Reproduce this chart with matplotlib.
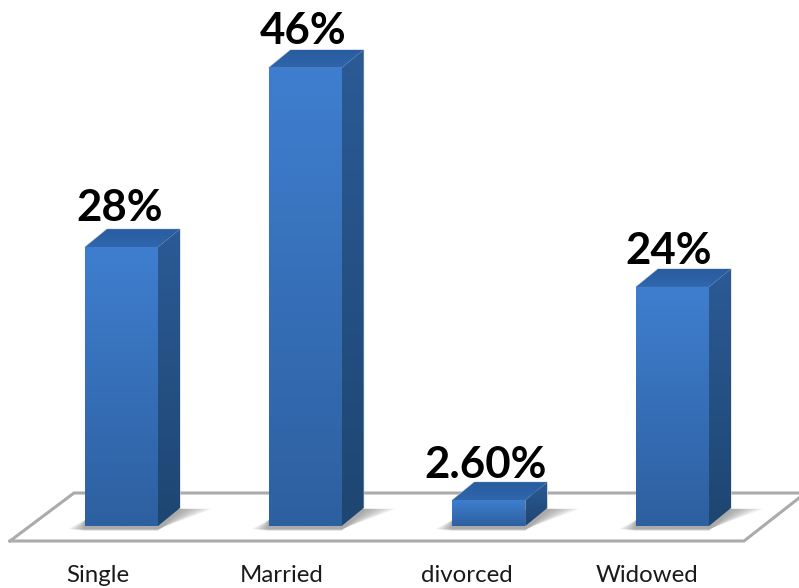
import numpy as np
import matplotlib
matplotlib.use('Agg')
import matplotlib.pyplot as plt
from matplotlib.patches import Polygon

categories = ['Single', 'Married', 'divorced', 'Widowed']
values = [28, 46, 2.6, 24]
labels = ['28%', '46%', '2.60%', '24%']

W, H = 799, 588
# one category step and one percent, in pixels of the picture
STEP = 183.67
PER = 9.96
X0 = 121.5
Y0 = 526

BAR_W = 73 / STEP
DX = 22 / STEP
DY = 18 / PER
GREY = '#ababab'


def px(x, y):
    # picture pixel -> data coords, only for the floor and the text
    return (x - X0) / STEP, (Y0 - y) / PER


def gradient(ax, poly, top, bottom, zorder):
    c1 = np.array(matplotlib.colors.to_rgb(top))
    c2 = np.array(matplotlib.colors.to_rgb(bottom))
    t = np.linspace(0, 1, 64)[:, None]
    img = (c1 * (1 - t) + c2 * t)[:, None, :]
    pts = np.array(poly.get_xy())
    im = ax.imshow(img, extent=(pts[:, 0].min(), pts[:, 0].max(), pts[:, 1].min(), pts[:, 1].max()),
                   aspect='auto', origin='upper', zorder=zorder, interpolation='bilinear')
    im.set_clip_path(poly)


fig = plt.figure(figsize=(W / 100, H / 100), dpi=100)
ax = fig.add_axes([0, 0, 1, 1])
ax.axis('off')

# floor
floor = [px(10, 541), px(74, 493), px(799, 493)]
ax.plot(*zip(*floor), color=GREY, lw=2.2, solid_joinstyle='miter', zorder=1)
floor2 = [px(10, 541), px(744, 541), px(799, 498)]
ax.plot(*zip(*floor2), color=GREY, lw=2.2, solid_joinstyle='miter', zorder=1)

xs = np.arange(len(categories))
bars = ax.bar(xs, values, width=BAR_W, color='#3a74bd', linewidth=0, zorder=4)

for bar, v in zip(bars, values):
    l = bar.get_x()
    r = l + bar.get_width()

    # soft shadow on the floor
    for i in range(10):
        grow = (10 - i) * 1.7 / STEP
        sh = Polygon([(l - grow, -0.3 - i * 0.02), (r, -0.3 - i * 0.02), (r + DX + grow * 1.9, DY * 0.95),
                      (r + DX * 0.4, DY * 0.95), (l, 0.6)],
                     closed=True, fc='#707070', ec='none', alpha=0.08, zorder=2)
        ax.add_patch(sh)

    # front
    front = Polygon([(l, 0), (r, 0), (r, v), (l, v)], closed=True, fc='none', ec='none', zorder=4)
    ax.add_patch(front)
    gradient(ax, front, '#3f7ecf', '#2d60a0', 5)

    # side
    side = Polygon([(r, 0), (r + DX, DY), (r + DX, v + DY), (r, v)], closed=True, fc='none', ec='none', zorder=4)
    ax.add_patch(side)
    gradient(ax, side, '#2b5a95', '#1e4672', 5)

    # top
    top = Polygon([(l, v), (r, v), (r + DX, v + DY), (l + DX, v + DY)], closed=True, fc='none', ec='none', zorder=4)
    ax.add_patch(top)
    gradient(ax, top, '#2a5c9f', '#2f66ad', 5)

    # thin pale edge on the upper silhouette
    ax.plot([l, l + DX, r + DX, r + DX], [v, v + DY, v + DY, DY], color='#c9d3df', lw=0.8,
            solid_joinstyle='round', zorder=3)

label_y = [208, 31, 465, 251]
label_x = [120, 303, 486, 669]
for lab, x, y in zip(labels, label_x, label_y):
    tx, ty = px(x, y)
    ax.text(tx, ty, lab, family='Lato', weight='bold', fontsize=31.5, ha='center', va='center', color='black', zorder=6)

tick_x = [98, 282, 467, 647]
for cat, x in zip(categories, tick_x):
    tx, ty = px(x, 576)
    ax.text(tx, ty, cat, family='Lato', fontsize=17.3, ha='center', va='center', color='#1a1a1a')

ax.set_xlim(px(0, 0)[0], px(W, 0)[0])
ax.set_ylim(px(0, H)[1], px(0, 0)[1])

fig.savefig('out.png', dpi=100)
